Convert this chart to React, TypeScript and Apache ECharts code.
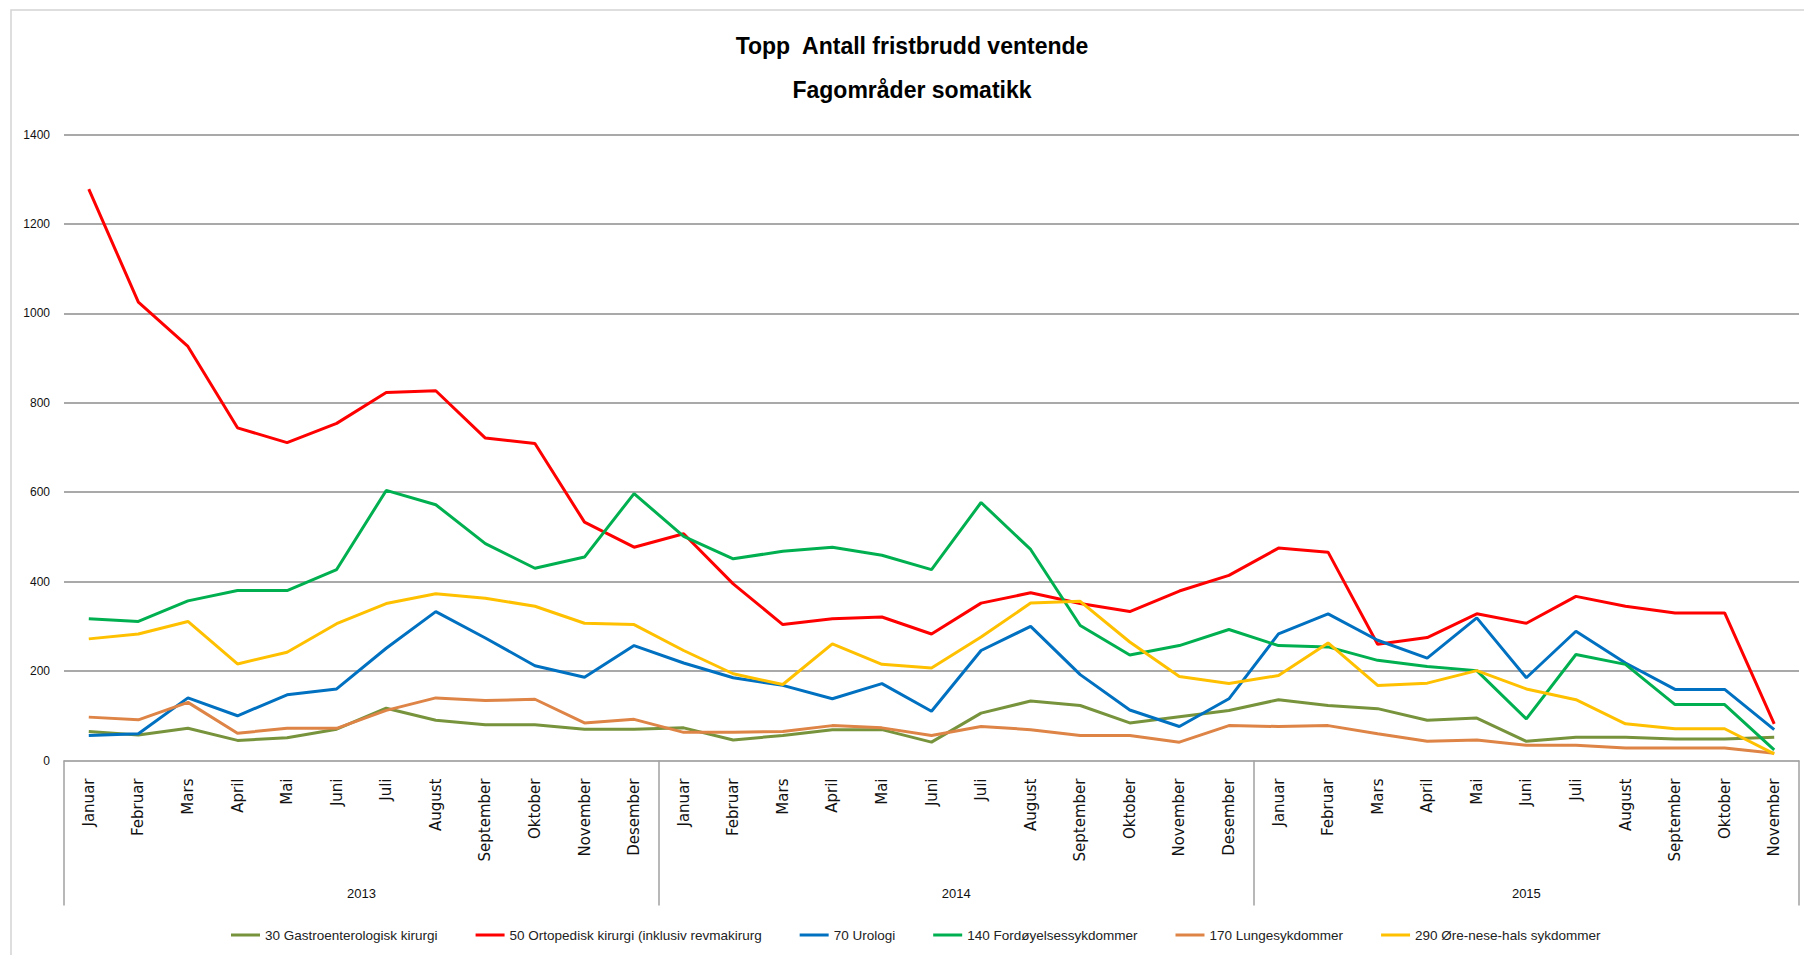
import React, { useEffect, useRef } from 'react';
import * as echarts from 'echarts';

const monthNames = ['Januar', 'Februar', 'Mars', 'April', 'Mai', 'Juni', 'Juli', 'August', 'September', 'Oktober', 'November', 'Desember'];
const years = ['2013', '2014', '2015'];
const monthsPerYear = [12, 12, 11];

const seriesNames = [
  '30 Gastroenterologisk kirurgi',
  '50 Ortopedisk kirurgi (inklusiv revmakirurg',
  '70 Urologi',
  '140 Fordøyelsessykdommer',
  '170 Lungesykdommer',
  '290 Øre-nese-hals sykdommer',
];
const seriesColors = ['#77933C', '#FF0000', '#0070C0', '#00B050', '#DD8446', '#FFC000'];

const gastro = [
  65, 57, 72, 45, 51, 70, 117, 90, 80, 80, 70, 70,
  73, 46, 56, 69, 69, 41, 106, 133, 123, 84, 98, 112,
  136, 123, 116, 90, 95, 43, 52, 52, 48, 48, 52,
];
const ortopedisk = [
  1278, 1025, 926, 744, 711, 754, 823, 827, 721, 709, 533, 477,
  507, 395, 304, 317, 321, 283, 352, 375, 351, 333, 379, 414,
  475, 466, 260, 275, 328, 307, 367, 345, 330, 330, 82,
];
const urologi = [
  56, 60, 140, 100, 147, 160, 251, 333, 274, 212, 186, 257,
  218, 185, 168, 138, 172, 110, 246, 300, 192, 113, 76, 138,
  283, 328, 269, 229, 319, 185, 289, 218, 159, 159, 69,
];
const fordoyelse = [
  317, 311, 357, 380, 380, 427, 604, 572, 485, 430, 455, 597,
  501, 451, 468, 477, 459, 427, 577, 472, 302, 236, 257, 293,
  257, 254, 224, 210, 201, 93, 237, 215, 125, 125, 24,
];
const lunge = [
  97, 91, 130, 61, 72, 72, 112, 140, 134, 137, 84, 92,
  63, 63, 65, 78, 73, 56, 76, 69, 56, 56, 41, 78,
  76, 78, 60, 43, 46, 34, 34, 28, 28, 28, 16,
];
const oreNeseHals = [
  272, 283, 311, 216, 242, 306, 351, 373, 363, 345, 307, 304,
  246, 194, 170, 261, 215, 207, 276, 352, 356, 265, 188, 172,
  190, 263, 168, 173, 201, 160, 136, 82, 71, 71, 15,
];
const seriesValues = [gastro, ortopedisk, urologi, fordoyelse, lunge, oreNeseHals];

const titleLines = ['Topp  Antall fristbrudd ventende', 'Fagområder somatikk'];

export default function App() {
  const ref = useRef<HTMLDivElement>(null);

  useEffect(() => {
    if (!ref.current) return;
    const chart = echarts.init(ref.current, undefined, { renderer: 'svg' });

    const categories: string[] = [];
    monthsPerYear.forEach((n) => {
      for (let i = 0; i < n; i++) categories.push(monthNames[i]);
    });
    const totalMonths = categories.length;
    const slotCount = totalMonths * 2 + 1;
    const yearSlots: string[] = new Array(slotCount).fill('');
    const boundarySlots = new Set<number>();
    let start = 0;
    years.forEach((y, i) => {
      boundarySlots.add(start * 2);
      yearSlots[start * 2 + monthsPerYear[i]] = y;
      start += monthsPerYear[i];
    });
    boundarySlots.add(totalMonths * 2);

    const option: any = {
      animation: false,
      backgroundColor: '#ffffff',
      graphic: [
        {
          type: 'rect',
          shape: { x: 11, y: 10, width: 1840, height: 1000 },
          style: { fill: 'none', stroke: '#D4D4D4', lineWidth: 1.5 },
          silent: true,
        },
        {
          type: 'text',
          style: {
            text: titleLines[0], x: 912, y: 46, align: 'center', verticalAlign: 'middle',
            fontSize: 23, fontWeight: 'bold', fontFamily: 'Liberation Sans', fill: '#000',
          },
        },
        {
          type: 'text',
          style: {
            text: titleLines[1], x: 912, y: 90, align: 'center', verticalAlign: 'middle',
            fontSize: 23, fontWeight: 'bold', fontFamily: 'Liberation Sans', fill: '#000',
          },
        },
      ],
      grid: { left: 64, right: 5, top: 134.5, bottom: 194.5, containLabel: false },
      legend: {
        left: 226,
        top: 923,
        icon: 'rect',
        itemWidth: 29,
        itemHeight: 3,
        itemGap: 38,
        textStyle: { fontSize: 13.5, fontFamily: 'Liberation Sans', color: '#222' },
        data: seriesNames,
      },
      xAxis: [
        {
          type: 'category',
          position: 'bottom',
          data: categories,
          boundaryGap: true,
          axisLine: { show: true, lineStyle: { color: '#B0B0B0', width: 1.5 } },
          axisTick: { show: false },
          axisLabel: {
            rotate: 90,
            interval: 0,
            margin: 18,
            fontSize: 15,
            fontFamily: 'DejaVu Sans',
            color: '#111',
          },
          splitLine: { show: false },
        },
        {
          type: 'category',
          position: 'bottom',
          data: yearSlots,
          boundaryGap: false,
          axisLine: { show: false },
          axisTick: {
            show: true,
            length: 145,
            interval: (index: number) => boundarySlots.has(index),
            lineStyle: { color: '#A0A0A0', width: 1.5 },
          },
          axisLabel: {
            interval: 0,
            margin: 126,
            fontSize: 13,
            fontFamily: 'Liberation Sans',
            color: '#111',
          },
          splitLine: { show: false },
        },
      ],
      yAxis: {
        type: 'value',
        min: 0,
        max: 1400,
        interval: 200,
        axisLine: { show: false },
        axisTick: { show: false },
        axisLabel: {
          margin: 14,
          fontSize: 12,
          fontFamily: 'Liberation Sans',
          color: '#111',
          formatter: (v: number) => String(v),
        },
        splitLine: { lineStyle: { color: '#8C8C8C', width: 1.5 } },
      },
      series: seriesNames.map((name, i) => ({
        name,
        type: 'line',
        xAxisIndex: 0,
        data: seriesValues[i],
        symbol: 'none',
        lineStyle: { width: 3, color: seriesColors[i] },
        itemStyle: { color: seriesColors[i] },
      })),
    };
    chart.setOption(option);
    return () => chart.dispose();
  }, []);

  return (
    <div
      ref={ref}
      style={{ position: 'absolute', left: 0, top: 0, width: 1804, height: 955, background: '#fff' }}
    />
  );
}
